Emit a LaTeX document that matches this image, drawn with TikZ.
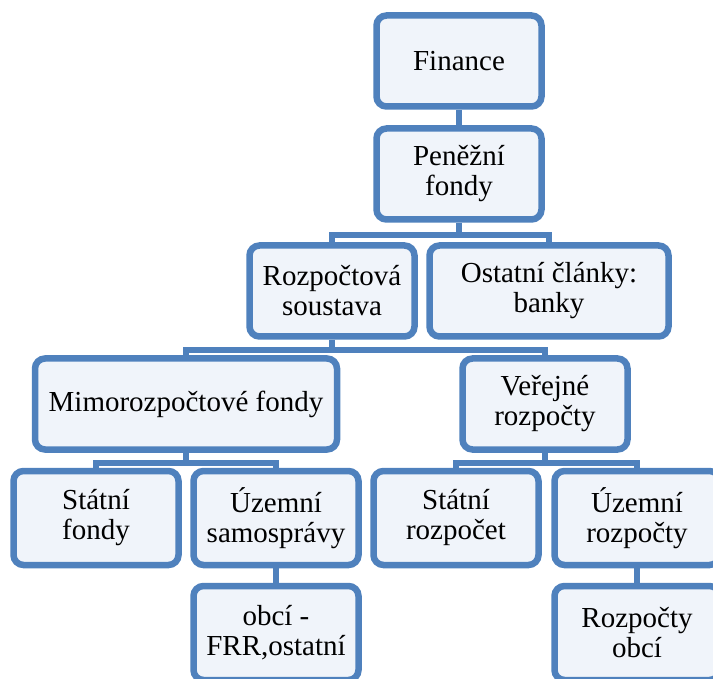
\documentclass[tikz,border=0pt]{standalone}
\usepackage{fontspec}
\setmainfont{Liberation Serif}
\usetikzlibrary{positioning}
\definecolor{boxline}{RGB}{79,129,189}
\definecolor{boxfill}{RGB}{240,244,250}

\begin{document}
\begin{tikzpicture}[x=1pt, y=-1pt]
  \tikzset{unit/.style={rectangle, rounded corners=10pt, draw=boxline, line width=6.5pt, fill=boxfill, align=center, inner sep=0pt, minimum width=165pt, minimum height=91pt, font=\fontsize{29}{30}\selectfont},
           link/.style={draw=boxline, line width=6pt}}
  \useasboundingbox (0,0) rectangle (713,679);

  \node[unit] (fin) at (459,61)  {Finance};
  \node[unit] (pen) at (459,174) {Peněžní\\fondy};
  \node[unit] (roz) at (332,291) {Rozpočtová\\soustava};
  \node[unit, minimum width=239pt] (ost) at (549,291) {Ostatní články:\\banky};
  \node[unit, minimum width=302pt] (mimo) at (186,404) {Mimorozpočtové fondy};
  \node[unit] (ver) at (545,404) {Veřejné\\rozpočty};
  \node[unit, minimum height=94pt] (sf) at (96,518)  {Státní\\fondy};
  \node[unit, minimum height=94pt] (us) at (276,518) {Územní\\samosprávy};
  \node[unit, minimum height=94pt] (sr) at (456,518) {Státní\\rozpočet};
  \node[unit, minimum height=94pt] (ur) at (637,518) {Územní\\rozpočty};
  \node[unit, minimum height=94pt] (obc) at (276,633) {obcí -\\FRR,ostatní};
  \node[unit, minimum height=94pt] (ro) at (637,633) {Rozpočty\\obcí};

  % connectors
  \draw[link] (fin.south) -- (pen.north);
  \draw[link] (pen.south) -- ++(0,12) coordinate (j1);
  \draw[link] (roz.north) |- (j1) -| (ost.north);
  \draw[link] (roz.south) -- ++(0,10) coordinate (j2);
  \draw[link] (mimo.north) |- (j2) -| (ver.north);
  \draw[link] (mimo.south) -- ++(0,10) coordinate (j3);
  \draw[link] (sf.north) |- (j3) -| (us.north);
  \draw[link] (ver.south) -- ++(0,10) coordinate (j4);
  \draw[link] (sr.north) |- (j4) -| (ur.north);
  \draw[link] (us.south) -- (obc.north);
  \draw[link] (ur.south) -- (ro.north);
\end{tikzpicture}
\end{document}
